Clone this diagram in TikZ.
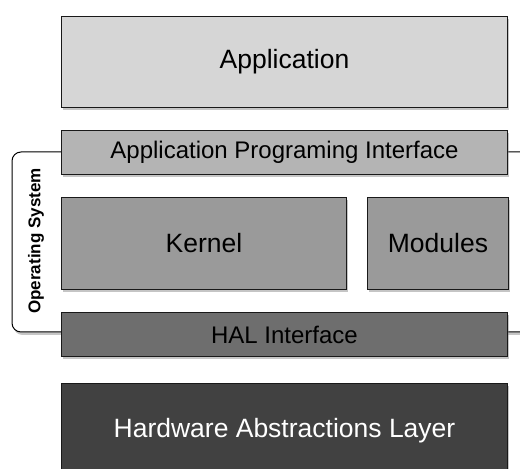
\documentclass[tikz,border=0pt]{standalone}
\usepackage{fontspec}
\setmainfont{Liberation Sans}
\usepackage{tikz}
\usetikzlibrary{positioning,shadows}
\definecolor{appgray}{HTML}{D6D6D6}
\definecolor{apigray}{HTML}{B4B4B4}
\definecolor{kerngray}{HTML}{9A9A9A}
\definecolor{halifgray}{HTML}{6E6E6E}
\definecolor{halgray}{HTML}{414141}
\tikzset{
  layer/.style={
    draw=black!90,
    line width=1pt,
    inner sep=0pt,
    minimum width=446pt,
    drop shadow={shadow xshift=1.5pt, shadow yshift=-3pt, opacity=0.45}
  },
  big layer/.style={
    layer,
    minimum height=91pt,
    font=\fontsize{26.5}{30}\selectfont
  },
  thin layer/.style={
    layer,
    minimum height=44pt,
    font=\fontsize{24}{28}\selectfont
  },
  os tab/.style={
    draw=black,
    line width=1pt,
    fill=white,
    rounded corners=9pt,
    minimum width=528pt,
    minimum height=180pt,
    drop shadow={shadow xshift=1.5pt, shadow yshift=-3pt, opacity=0.45}
  }
}

\begin{document}
\begin{tikzpicture}[x=1pt, y=1pt, node distance=22pt]
 \useasboundingbox (0,0) rectangle (520,469);
 % operating system tab behind the layers
 \node[os tab] (os) at (276,227) {};
 \node[rotate=90, font=\bfseries\fontsize{17}{20}\selectfont] (oslabel) at (36,228) {Operating System};
 % layers
 \node[big layer, fill=appgray, anchor=north west] (app) at (61,453) {Application};
 \node[thin layer, fill=apigray] (api) [below right=22pt and 0pt of app.south west, anchor=north west] {Application Programing Interface};
 \node[big layer, fill=kerngray, minimum width=285pt, minimum height=92pt] (kernel) [below right=22pt and 0pt of api.south west, anchor=north west] {Kernel};
 \node[big layer, fill=kerngray, minimum width=141pt, minimum height=92pt] (modules) [right=20pt of kernel] {Modules};
 \node[thin layer, fill=halifgray] (halif) [below right=22pt and 0pt of kernel.south west, anchor=north west] {HAL Interface};
 \node[big layer, fill=halgray, text=white, minimum height=94pt] (hal) [below right=26pt and 0pt of halif.south west, anchor=north west] {Hardware Abstractions Layer};
\end{tikzpicture}
\end{document}
